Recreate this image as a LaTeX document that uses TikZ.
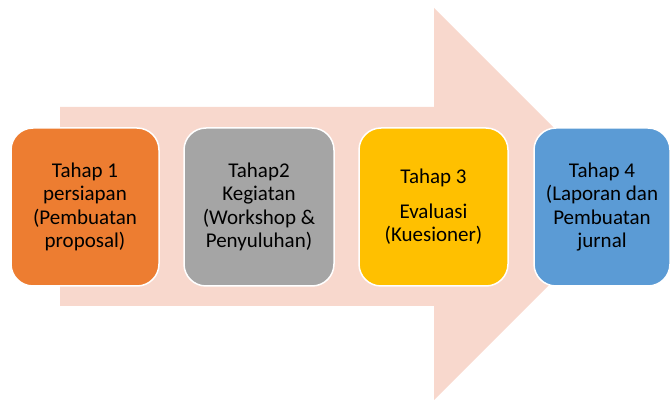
\documentclass[tikz,border=0pt]{standalone}
\usepackage{fontspec}
\setmainfont{Carlito}
\usepackage{tikz}

\definecolor{arrowpink}{HTML}{F8D8CD}
\definecolor{tahaporange}{HTML}{ED7D31}
\definecolor{tahapgray}{HTML}{A5A5A5}
\definecolor{tahapyellow}{HTML}{FFC000}
\definecolor{tahapblue}{HTML}{5B9BD5}

\tikzset{
	tahapbox/.style={draw=white, line width=1.5pt, rounded corners=22pt,
		minimum height=158pt, inner sep=2pt, align=center, text=black,
		font=\fontsize{21}{23.5}\selectfont}
}

\begin{document}
\begin{tikzpicture}[x=1pt, y=-1pt]
\useasboundingbox (0,0) rectangle (670,403);

% background arrow
\fill[arrowpink] (60,107) -- (434,107) -- (434,8) -- (630,204) -- (434,400) -- (434,306) -- (60,306) -- cycle;

\node[tahapbox, fill=tahaporange, minimum width=148pt] (tahap1) at (85,207) {Tahap 1\\persiapan\\(Pembuatan\\proposal)};
\node[tahapbox, fill=tahapgray, minimum width=150pt] (tahap2) at (259,207) {Tahap2\\Kegiatan\\(Workshop \&\\Penyuluhan)};
\node[tahapbox, fill=tahapyellow, minimum width=149pt] (tahap3) at (433.5,207) {Tahap 3\\[11pt]Evaluasi\\(Kuesioner)};
\node[tahapbox, fill=tahapblue, minimum width=136pt] (tahap4) at (602,207) {Tahap 4\\(Laporan dan\\Pembuatan\\jurnal};

\end{tikzpicture}
\end{document}
